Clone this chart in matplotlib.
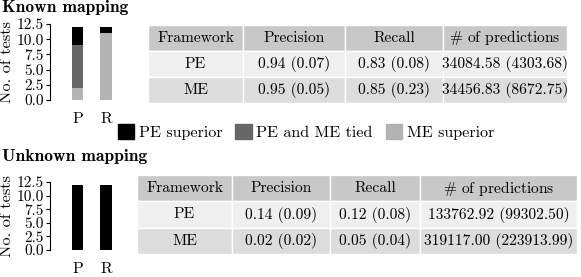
import numpy as np
import matplotlib
matplotlib.use("Agg")
import matplotlib.pyplot as plt
from matplotlib.patches import Patch

plt.rcParams["font.family"] = "serif"
plt.rcParams["font.serif"] = ["cmr10"]
plt.rcParams["mathtext.fontset"] = "cm"
plt.rcParams["axes.formatter.use_mathtext"] = True
plt.rcParams["font.size"] = 11.5

# Daten
metrics = ["P", "R"]
known_pe_sup = np.array([3, 1])
known_tied = np.array([7, 0])
known_me_sup = np.array([2, 11])
unknown_pe_sup = np.array([12, 12])
unknown_tied = np.array([0, 0])
unknown_me_sup = np.array([0, 0])

col_labels = ["Framework", "Precision", "Recall", r"$\#$ of predictions"]
frameworks = ["PE", "ME"]
known_prec = ["0.94 (0.07)", "0.95 (0.05)"]
known_rec = ["0.83 (0.08)", "0.85 (0.23)"]
known_npred = ["34084.58 (4303.68)", "34456.83 (8672.75)"]
unknown_prec = ["0.14 (0.09)", "0.02 (0.02)"]
unknown_rec = ["0.12 (0.08)", "0.05 (0.04)"]
unknown_npred = ["133762.92 (99302.50)", "319117.00 (223913.99)"]

c_pe = "#000000"
c_tied = "#666666"
c_me = "#b3b3b3"

W, H = 581, 277
fig = plt.figure(figsize=(W / 100, H / 100), dpi=100)


def px(x0, y0, x1, y1):
    return [x0 / W, 1 - y1 / H, (x1 - x0) / W, (y1 - y0) / H]


def bars(ax, pe, tied, me):
    x = np.arange(len(metrics))
    ax.bar(x, me, width=0.4, color=c_me)
    ax.bar(x, tied, width=0.4, bottom=me, color=c_tied)
    ax.bar(x, pe, width=0.4, bottom=me + tied, color=c_pe)
    ax.set_xticks(x)
    ax.set_xticklabels(metrics, fontsize=11.5)
    ax.set_xlim(-0.95, 1.65)
    ax.set_ylim(0, 12.5)
    ax.set_yticks(np.arange(0, 12.6, 2.5))
    ax.set_yticklabels(["%.1f" % v for v in np.arange(0, 12.6, 2.5)],
                       fontsize=11)
    for s in ["top", "right", "bottom"]:
        ax.spines[s].set_visible(False)
    ax.tick_params(axis="x", length=0, pad=9)
    ax.tick_params(axis="y", length=3, pad=1.5)
    ax.set_ylabel("No. of tests", fontsize=11.8, labelpad=2)


def table(ax, prec, rec, npred, widths):
    ax.axis("off")
    cells = [[f, p, r, n] for f, p, r, n in zip(frameworks, prec, rec, npred)]
    w = np.array(widths, dtype=float)
    t = ax.table(cellText=cells, colLabels=col_labels, cellLoc="center",
                 colWidths=list(w / w.sum()), bbox=[0, 0, 1, 1])
    t.auto_set_font_size(False)
    t.set_fontsize(11.2)
    row_colors = ["#c8c8c8", "#efefef", "#dcdcdc"]
    for (r, c), cell in t.get_celld().items():
        cell.set_facecolor(row_colors[r])
        cell.set_edgecolor("white")
        cell.set_linewidth(1)
        cell.PAD = 0.02


ax1 = fig.add_axes(px(50, 24, 125, 100))
bars(ax1, known_pe_sup, known_tied, known_me_sup)
ax2 = fig.add_axes(px(50, 182, 125, 250))
bars(ax2, unknown_pe_sup, unknown_tied, unknown_me_sup)

tab1 = fig.add_axes(px(148, 25, 567, 103))
table(tab1, known_prec, known_rec, known_npred, [95, 102, 98, 124])
tab2 = fig.add_axes(px(137, 175, 577, 254))
table(tab2, unknown_prec, unknown_rec, unknown_npred, [95, 98, 90, 157])

fig.text(2 / W, 1 - 0 / H, "Known mapping", fontfamily="cmb10",
         fontsize=12.6, va="top", ha="left")
fig.text(2 / W, 1 - 149 / H, "Unknown mapping", fontfamily="cmb10",
         fontsize=12.6, va="top", ha="left")

handles = [Patch(color=c_pe), Patch(color=c_tied), Patch(color=c_me)]
fig.legend(handles, ["PE superior", "PE and ME tied", "ME superior"],
           loc="center", bbox_to_anchor=(306 / W, 1 - 132 / H), ncol=3,
           frameon=False, handlelength=1.0, handleheight=1.0,
           handletextpad=0.3, columnspacing=0.8, fontsize=11.6)

fig.savefig("out.png", dpi=100)
